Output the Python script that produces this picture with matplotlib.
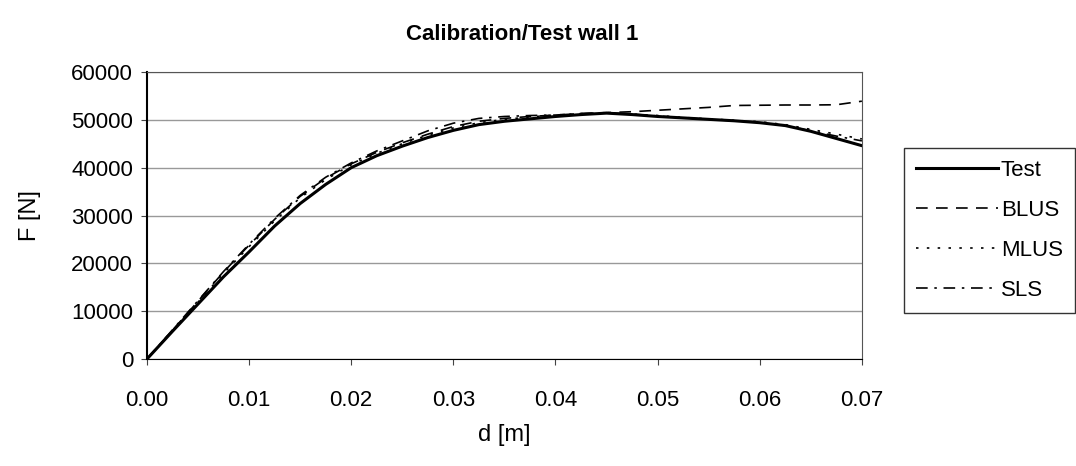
import matplotlib.pyplot as plt

plt.rcParams['font.family'] = ['Liberation Sans', 'DejaVu Sans']

# displacement [m], same grid for every series
d = [0, 0.0025, 0.005, 0.0075, 0.01, 0.0125, 0.015, 0.0175, 0.02, 0.0225,
     0.025, 0.0275, 0.03, 0.0325, 0.035, 0.0375, 0.04, 0.0425, 0.045, 0.0475,
     0.05, 0.0525, 0.055, 0.0575, 0.06, 0.0625, 0.065, 0.0675, 0.07]

# force [N]
f_test = [0, 5800, 11500, 17200, 22400, 27800, 32500, 36500, 40000, 42500,
          44500, 46300, 47800, 49000, 49700, 50200, 50700, 51100, 51400, 51100,
          50700, 50400, 50100, 49800, 49400, 48800, 47600, 46100, 44600]
f_blus = [0, 6000, 12100, 18200, 23800, 29200, 34000, 37800, 40800, 43200,
          45200, 47000, 48600, 49700, 50300, 50700, 51000, 51300, 51500, 51700,
          52000, 52300, 52600, 53000, 53050, 53100, 53100, 53150, 53900]
f_mlus = [0, 5900, 11900, 17900, 23500, 28900, 33700, 37500, 40600, 43000,
          45000, 46800, 48300, 49400, 50100, 50600, 51000, 51300, 51500, 51200,
          50900, 50500, 50200, 49900, 49600, 49000, 48000, 47000, 46000]
f_sls = [0, 6100, 12200, 18300, 24000, 29400, 34200, 38000, 41000, 43500,
         45600, 47700, 49300, 50300, 50700, 50900, 51000, 51300, 51500, 51200,
         50800, 50400, 50100, 49800, 49500, 48800, 47700, 46600, 45600]

x_ticks = [0.00, 0.01, 0.02, 0.03, 0.04, 0.05, 0.06, 0.07]
y_ticks = [0, 10000, 20000, 30000, 40000, 50000, 60000]

fig = plt.figure(figsize=(10.76, 4.66), dpi=100)
ax = fig.add_axes([0.1366, 0.2296, 0.6644, 0.6159])

ax.plot(d, f_test, color='black', lw=2.2, label='Test')
ax.plot(d, f_blus, color='black', lw=1.2, dashes=(7, 5), label='BLUS')
ax.plot(d, f_mlus, color='black', lw=1.2, dashes=(1.5, 5), label='MLUS')
ax.plot(d, f_sls, color='black', lw=1.2, dashes=(7, 4, 1.5, 4), label='SLS')

ax.set_xlim(0, 0.07)
ax.set_ylim(0, 60000)
ax.set_xticks(x_ticks)
ax.set_xticklabels(['%.2f' % t for t in x_ticks])
ax.set_yticks(y_ticks)
ax.set_yticklabels([str(t) for t in y_ticks])
ax.tick_params(labelsize=16, length=4, color='#444444')
ax.tick_params(axis='y', pad=6)
ax.tick_params(axis='x', pad=18)

ax.grid(axis='y', color='#999999', lw=1)
ax.set_axisbelow(True)
for s in ['top', 'right']:
    ax.spines[s].set_color('#555555')
ax.spines['left'].set_linewidth(1.5)

ax.set_xlabel('d [m]', fontsize=17, labelpad=10)
ax.set_ylabel('F [N]', fontsize=17, labelpad=22)
fig.text(0.485, 0.925, 'Calibration/Test wall 1', ha='center', va='center',
         fontsize=16, fontweight='bold')

fig.legend(loc='upper left', bbox_to_anchor=(904 / 1076, 1 - 148 / 466),
           fontsize=16, frameon=True, fancybox=False, edgecolor='black',
           handlelength=3.7, handletextpad=0.1, labelspacing=0.85,
           borderaxespad=0, borderpad=0.55)

fig.savefig('out.png', dpi=100)
